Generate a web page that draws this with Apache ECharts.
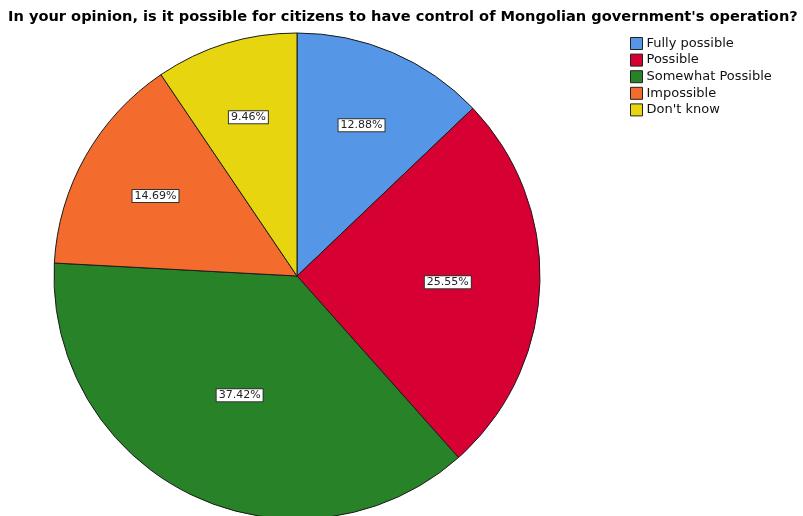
<!DOCTYPE html>
<html>
<head>
<meta charset="utf-8">
<script src="https://cdn.jsdelivr.net/npm/echarts@6/dist/echarts.min.js"></script>
<style>
  html, body { margin: 0; padding: 0; background: #fff; }
  #chart { width: 803px; height: 516px; }
</style>
</head>
<body>
<div id="chart"></div>
<script>
// Survey answers and their shares (percent of respondents)
const categories = ['Fully possible', 'Possible', 'Somewhat Possible', 'Impossible', "Don't know"];
const shares = [12.88, 25.55, 37.42, 14.69, 9.46];
const colors = ['#5596E6', '#D60032', '#288228', '#F36B2D', '#E6D50F'];

const titleText = "In your opinion, is it possible for citizens to have control of Mongolian government's operation?";

const pieCenter = [297, 276];
const pieRadius = 243;
// labels sit near each sector's centroid, nudged slightly outward
const labelReach = 1.04;

const total = shares.reduce((a, b) => a + b, 0);
// distance from the centre to the centroid of a sector spanning `frac` of the circle
function centroidDistance(frac) {
  const half = Math.PI * frac;
  return (2 * pieRadius * Math.sin(half)) / (3 * half);
}

const chart = echarts.init(document.getElementById('chart'), null, { renderer: 'canvas' });

chart.setOption({
  animation: false,
  color: colors,
  title: {
    text: titleText,
    left: 3,
    top: 5,
    textStyle: { fontFamily: 'DejaVu Sans', fontSize: 14.6, fontWeight: 'bold', color: '#000' }
  },
  legend: {
    orient: 'vertical',
    left: 625,
    top: 32,
    itemWidth: 12,
    itemHeight: 12,
    itemGap: 3.6,
    icon: 'rect',
    data: categories,
    itemStyle: { borderColor: '#222', borderWidth: 1 },
    textStyle: { fontFamily: 'DejaVu Sans', fontSize: 13, color: '#111', padding: [0, 0, 0, -1] }
  },
  series: [{
    type: 'pie',
    center: pieCenter,
    radius: pieRadius,
    startAngle: 90,
    clockwise: true,
    avoidLabelOverlap: false,
    itemStyle: { borderColor: '#1a1a1a', borderWidth: 1 },
    emphasis: { disabled: true },
    label: {
      show: true,
      position: 'inside',
      formatter: p => p.value.toFixed(2) + '%',
      fontFamily: 'DejaVu Sans',
      fontSize: 11,
      color: '#222',
      backgroundColor: '#fff',
      borderColor: '#333',
      borderWidth: 1,
      padding: [1, 2, 0, 2]
    },
    labelLayout: params => {
      const r = params.labelRect;
      const lx = r.x + r.width / 2;
      const ly = r.y + r.height / 2;
      const dx = lx - pieCenter[0];
      const dy = ly - pieCenter[1];
      const len = Math.sqrt(dx * dx + dy * dy) || 1;
      const d = centroidDistance(shares[params.dataIndex] / total) * labelReach;
      return {
        x: pieCenter[0] + dx / len * d,
        y: pieCenter[1] + dy / len * d
      };
    },
    data: categories.map((name, i) => ({ name, value: shares[i] }))
  }]
});
</script>
</body>
</html>
